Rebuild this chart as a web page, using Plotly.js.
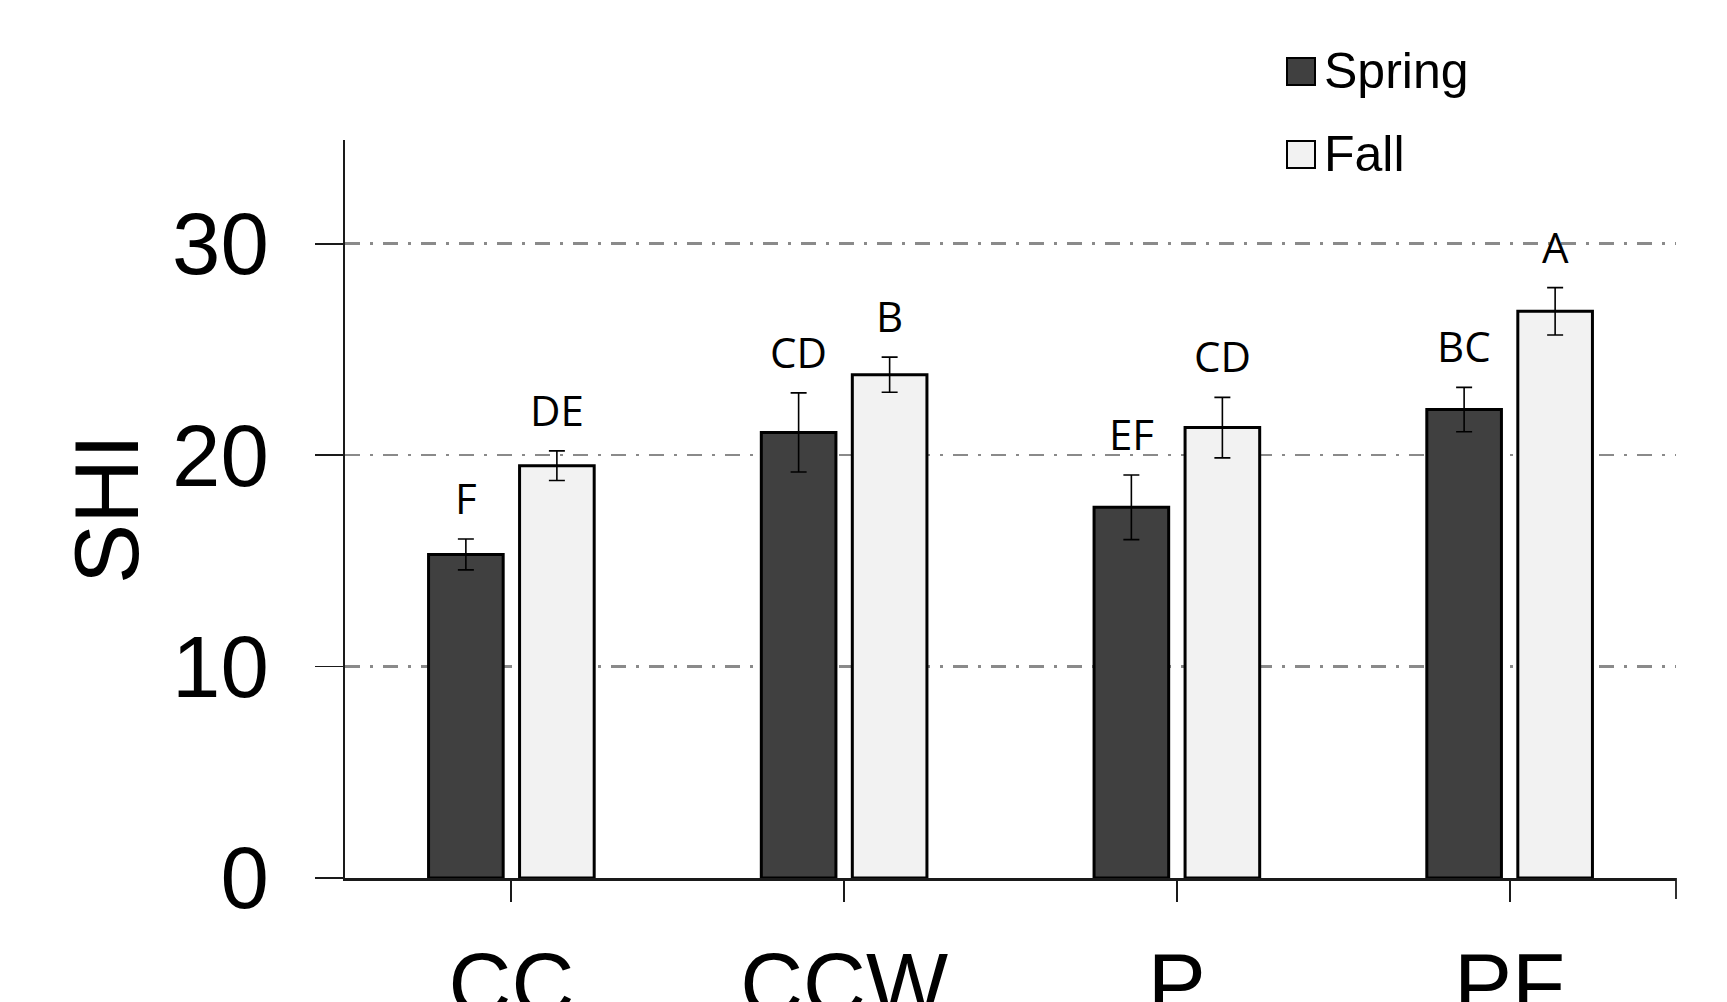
<!DOCTYPE html>
<html>
<head>
<meta charset="utf-8">
<script src="https://cdn.plot.ly/plotly-3.0.1.min.js"></script>
<style>
  html, body { margin: 0; padding: 0; background: #ffffff; }
  #chart { width: 1727px; height: 1002px; }
</style>
</head>
<body>
<div id="chart"></div>
<script>
// Soil health index by management system and sampling season
const categories = ['CC', 'CCW', 'P', 'PF'];
const seriesNames = ['Spring', 'Fall'];

const springValues = [15.3, 21.07, 17.53, 22.15];
const springErrors = [0.73, 1.87, 1.53, 1.05];
const springLetters = ['F', 'CD', 'EF', 'BC'];

const fallValues = [19.5, 23.8, 21.3, 26.8];
const fallErrors = [0.7, 0.83, 1.43, 1.12];
const fallLetters = ['DE', 'B', 'CD', 'A'];

const yTickValues = [0, 10, 20, 30];

// Plot frame in pixels
const W = 1727, H = 1002;
const M = { l: 345, r: 51, t: 140, b: 124 };
const plotW = W - M.l - M.r;
const plotH = H - M.t - M.b;
const px2x = px => (px - M.l) / plotW;
const px2y = py => (H - M.b - py) / plotH;

const springColor = '#404040';
const fallColor = '#f2f2f2';
const outline = '#000000';
const groupShift = 45.4; // half the distance between paired bar centres

const errStyle = (arr) => ({
  type: 'data', array: arr, visible: true,
  color: '#000000', thickness: 1.6, width: 8
});

const traces = [
  {
    type: 'bar', name: seriesNames[0], x: categories, y: springValues,
    marker: { color: springColor, line: { color: outline, width: 3 } },
    error_y: errStyle(springErrors), showlegend: false, hoverinfo: 'x+y'
  },
  {
    type: 'bar', name: seriesNames[1], x: categories, y: fallValues,
    marker: { color: fallColor, line: { color: outline, width: 3 } },
    error_y: errStyle(fallErrors), showlegend: false, hoverinfo: 'x+y'
  }
];

const letterFont = { family: 'Open Sans, Noto Sans, sans-serif', size: 42, color: '#000000' };
const annotations = [];
categories.forEach((c, i) => {
  annotations.push({
    x: c, y: springValues[i] + springErrors[i], xref: 'x', yref: 'y',
    text: springLetters[i], showarrow: false, xanchor: 'center', yanchor: 'bottom',
    xshift: -groupShift, yshift: 11, font: letterFont
  });
  annotations.push({
    x: c, y: fallValues[i] + fallErrors[i], xref: 'x', yref: 'y',
    text: fallLetters[i], showarrow: false, xanchor: 'center', yanchor: 'bottom',
    xshift: groupShift, yshift: 11, font: letterFont
  });
});

// Legend drawn as boxed swatches with labels
const legendFont = { family: 'Liberation Sans, Arial, sans-serif', size: 50, color: '#000000' };
const legendRows = [
  { name: seriesNames[0], color: springColor, top: 58, bottom: 85 },
  { name: seriesNames[1], color: fallColor, top: 141, bottom: 168 }
];
const shapes = [];
legendRows.forEach(r => {
  shapes.push({
    type: 'rect', xref: 'paper', yref: 'paper',
    x0: px2x(1287), x1: px2x(1315), y0: px2y(r.bottom), y1: px2y(r.top),
    fillcolor: r.color, line: { color: outline, width: 2 }
  });
  annotations.push({
    xref: 'paper', yref: 'paper', x: px2x(1322), y: px2y((r.top + r.bottom) / 2),
    text: r.name, showarrow: false, xanchor: 'left', yanchor: 'middle', font: legendFont
  });
});

// Closing tick at the right end of the category axis
shapes.push({
  type: 'line', xref: 'paper', yref: 'paper', ysizemode: 'pixel', yanchor: 0,
  x0: 1, x1: 1, y0: 0, y1: -21, line: { color: '#1a1a1a', width: 1.8 }
});

const axisFont = { family: 'Liberation Sans, Arial, sans-serif', size: 87, color: '#000000' };

const layout = {
  width: W, height: H,
  margin: M,
  paper_bgcolor: '#ffffff', plot_bgcolor: '#ffffff',
  barmode: 'group', bargap: 0.453, bargroupgap: 0.18,
  showlegend: false,
  xaxis: {
    type: 'category', categoryorder: 'array', categoryarray: categories,
    showline: true, linecolor: '#1a1a1a', linewidth: 2.5,
    ticks: 'outside', ticklen: 21, tickwidth: 1.8, tickcolor: '#1a1a1a',
    tickfont: axisFont, ticklabelstandoff: 8,
    showgrid: false, zeroline: false, fixedrange: true
  },
  yaxis: {
    range: [0, 34.9], tickvals: yTickValues, ticktext: yTickValues.map(String),
    showline: true, linecolor: '#1a1a1a', linewidth: 1.8,
    ticks: 'outside', ticklen: 28, tickwidth: 1.8, tickcolor: '#1a1a1a',
    tickfont: axisFont, ticklabelstandoff: 29,
    showgrid: true, gridcolor: '#8a8a8a', gridwidth: 2.5, griddash: '15px,10px,3px,10px',
    zeroline: false, fixedrange: true,
    title: { text: 'SHI', font: { family: 'Liberation Sans, Arial, sans-serif', size: 90, color: '#000000' }, standoff: 3 }
  },
  annotations: annotations,
  shapes: shapes
};

Plotly.newPlot('chart', traces, layout, { displayModeBar: false, staticPlot: true });
</script>
</body>
</html>
